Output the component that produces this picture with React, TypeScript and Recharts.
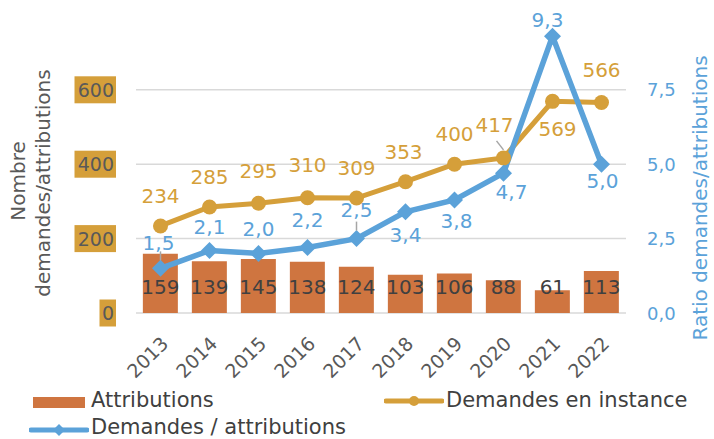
import React from 'react';
import { ComposedChart, Bar, Line, XAxis, YAxis, CartesianGrid, LabelList } from 'recharts';

const years = ['2013', '2014', '2015', '2016', '2017', '2018', '2019', '2020', '2021', '2022'];
const attributions = [159, 139, 145, 138, 124, 103, 106, 88, 61, 113];
const instance = [234, 285, 295, 310, 309, 353, 400, 417, 569, 566];
const ratio = [1.5, 2.1, 2.0, 2.2, 2.5, 3.4, 3.8, 4.7, 9.3, 5.0];
const leftTicks = [0, 200, 400, 600];
const rightTicks = [0, 2.5, 5, 7.5];
const LEFT_MAX = 750;

const BAR = '#CF7540';
const GOLD = '#D59F3A';
const BLUE = '#5BA2D9';
const GRID = '#D9D9D9';
const TXT = '#595959';
const FONT = '"DejaVu Sans", sans-serif';

// label placement relative to point: [dx, dy, leader]
const instanceLabelPos: [number, number, boolean][] = [
  [0, -30, false], [0, -30, false], [0, -32, false], [0, -33, false], [0, -30, false],
  [-2, -30, false], [0, -30, false], [-9, -33, true], [5, 28, false], [0, -32, false],
];
const ratioLabelPos: [number, number, boolean][] = [
  [-2, -25, true], [0, -24, false], [0, -24, false], [0, -28, false], [0, -29, true],
  [0, 23, false], [2, 21, false], [8, 19, false], [-5, -16, false], [1, 17, false],
];

const data = years.map((y, i) => ({
  year: y,
  attributions: attributions[i],
  instance: instance[i],
  ratio: ratio[i],
}));

const fmt = (v: number) => v.toFixed(1).replace('.', ',');

const LeftTick = (props: any) => {
  const { x, y, payload } = props;
  const s = String(payload.value);
  const w = s.length * 12.5 + 4;
  return (
    <g>
      <rect x={x - w} y={y - 13.5} width={w} height={27} fill={GOLD} />
      <text x={x - 2} y={y} textAnchor="end" dominantBaseline="central" fill={TXT} fontSize={19} fontFamily={FONT}>
        {s}
      </text>
    </g>
  );
};

const RightTick = (props: any) => {
  const { x, y, payload } = props;
  return (
    <text x={x} y={y} textAnchor="start" dominantBaseline="central" fill={BLUE} fontSize={18} fontFamily={FONT}>
      {fmt(payload.value)}
    </text>
  );
};

const XTick = (props: any) => {
  const { x, y, payload } = props;
  return (
    <text
      transform={`translate(${x + 4},${y + 27}) rotate(-45)`}
      textAnchor="end"
      dominantBaseline="central"
      fill={TXT}
      fontSize={19}
      fontFamily={FONT}
    >
      {payload.value}
    </text>
  );
};

const Diamond = (props: any) => {
  const { cx, cy } = props;
  if (cx == null || cy == null) return null;
  const r = 8.5;
  return <polygon points={`${cx},${cy - r} ${cx + r},${cy} ${cx},${cy + r} ${cx - r},${cy}`} fill={BLUE} />;
};

const pointLabel = (pos: [number, number, boolean][], color: string, format: (v: number) => string) => (props: any) => {
  const { x, y, value, index } = props;
  const [dx, dy, leader] = pos[index];
  return (
    <g>
      {leader && (
        <line x1={x - (dx > -5 ? 0 : 7)} y1={y - 17} x2={x} y2={y - 8} stroke="#A6A6A6" strokeWidth={1.5} />
      )}
      <text x={x + dx} y={y + dy} textAnchor="middle" dominantBaseline="central" fill={color} fontSize={20} fontFamily={FONT}>
        {format(value)}
      </text>
    </g>
  );
};

const barLabel = (props: any) => {
  const { x, y, width, height, value } = props;
  return (
    <text x={x + width / 2} y={y + height - 26} textAnchor="middle" dominantBaseline="central" fill="#404040" fontSize={20} fontFamily={FONT}>
      {value}
    </text>
  );
};

// grid only at the left axis ticks (not at the top edge of the plot)
const gridLines = (p: any) => {
  const { offset } = p;
  if (p.yAxis && typeof p.yAxis.scale === 'function') return leftTicks.map((t) => p.yAxis.scale(t));
  return leftTicks.map((t) => offset.top + offset.height * (1 - t / LEFT_MAX));
};

const Legend = () => (
  <div style={{ position: 'absolute', left: 0, top: 0, width: 714, height: 439, pointerEvents: 'none', fontFamily: FONT, fontSize: 21, color: '#404040' }}>
    <div style={{ position: 'absolute', left: 33, top: 397, width: 52, height: 11, background: BAR }} />
    <div style={{ position: 'absolute', left: 91, top: 386, lineHeight: '28px' }}>Attributions</div>
    <svg style={{ position: 'absolute', left: 384, top: 392 }} width={60} height={18}>
      <line x1={2} y1={9} x2={58} y2={9} stroke={GOLD} strokeWidth={5} strokeLinecap="round" />
      <circle cx={30} cy={9} r={5} fill={GOLD} />
    </svg>
    <div style={{ position: 'absolute', left: 446, top: 386, lineHeight: '28px' }}>Demandes en instance</div>
    <svg style={{ position: 'absolute', left: 29, top: 421 }} width={60} height={18}>
      <line x1={2} y1={9} x2={58} y2={9} stroke={BLUE} strokeWidth={5} strokeLinecap="round" />
      <polygon points="30,3 36,9 30,15 24,9" fill={BLUE} />
    </svg>
    <div style={{ position: 'absolute', left: 91, top: 414, lineHeight: '26px' }}>Demandes / attributions</div>
  </div>
);

export default function App() {
  return (
    <div style={{ position: 'absolute', left: 0, top: 0, width: 714, height: 439, background: '#fff' }}>
      <ComposedChart
        width={714}
        height={439}
        data={data}
        margin={{ top: 34, right: 0, bottom: 60, left: 0 }}
        barCategoryGap="14%"
      >
        <CartesianGrid
          vertical={false}
          yAxisId="left"
          stroke={GRID}
          strokeWidth={1.5}
          horizontalCoordinatesGenerator={gridLines}
        />
        <XAxis
          dataKey="year"
          height={66}
          axisLine={false}
          tickLine={false}
          tickSize={0}
          tickMargin={0}
          interval={0}
          tick={<XTick />}
        />
        <YAxis
          yAxisId="left"
          width={136}
          domain={[0, LEFT_MAX]}
          ticks={leftTicks}
          axisLine={false}
          tickLine={false}
          tickSize={0}
          tickMargin={20}
          tick={<LeftTick />}
          label={{
            content: () => (
              <g>
                <text transform="translate(18,181) rotate(-90)" textAnchor="middle" dominantBaseline="central" fill={TXT} fontSize={20} fontFamily={FONT}>
                  Nombre
                </text>
                <text transform="translate(43,183) rotate(-90)" textAnchor="middle" dominantBaseline="central" fill={TXT} fontSize={20} fontFamily={FONT}>
                  demandes/attributions
                </text>
              </g>
            ),
          }}
        />
        <YAxis
          yAxisId="right"
          orientation="right"
          width={88}
          domain={[0, 9.375]}
          ticks={rightTicks}
          axisLine={false}
          tickLine={false}
          tickSize={0}
          tickMargin={21}
          tick={<RightTick />}
          label={{
            content: () => (
              <text
                transform="translate(700,198) rotate(-90)"
                textAnchor="middle"
                dominantBaseline="central"
                fill={BLUE}
                fontSize={20}
                fontFamily={FONT}
              >
                Ratio demandes/attributions
              </text>
            ),
          }}
        />
        <Bar yAxisId="left" dataKey="attributions" name="Attributions" fill={BAR} isAnimationActive={false}>
          <LabelList dataKey="attributions" content={barLabel} />
        </Bar>
        <Line
          yAxisId="left"
          dataKey="instance"
          name="Demandes en instance"
          stroke={GOLD}
          strokeWidth={5}
          dot={{ r: 7.5, fill: GOLD, stroke: GOLD, strokeWidth: 0 }}
          isAnimationActive={false}
        >
          <LabelList dataKey="instance" content={pointLabel(instanceLabelPos, GOLD, (v) => String(v))} />
        </Line>
        <Line
          yAxisId="right"
          dataKey="ratio"
          name="Demandes / attributions"
          stroke={BLUE}
          strokeWidth={5.5}
          dot={<Diamond />}
          isAnimationActive={false}
        >
          <LabelList dataKey="ratio" content={pointLabel(ratioLabelPos, BLUE, fmt)} />
        </Line>
      </ComposedChart>
      <Legend />
    </div>
  );
}
